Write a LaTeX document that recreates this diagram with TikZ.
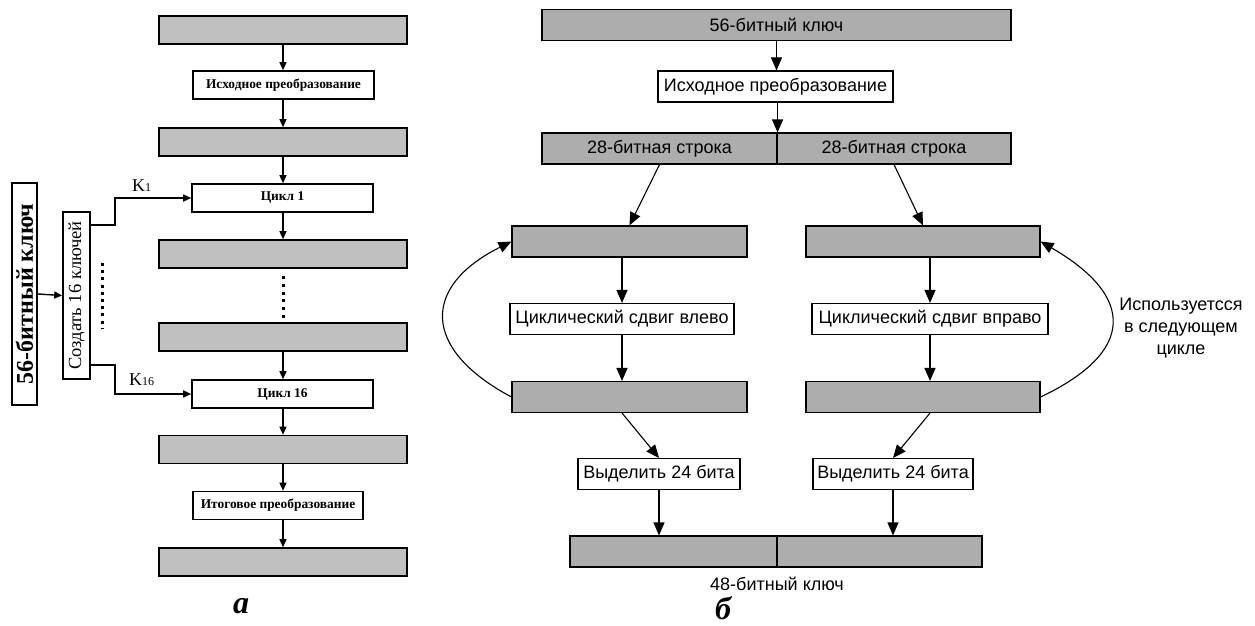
\documentclass[tikz,border=0pt]{standalone}
\usepackage{fontspec}
\setmainfont{Liberation Serif}
\newfontfamily\sansf{Liberation Sans}
\usetikzlibrary{arrows.meta}
\definecolor{lgfill}{HTML}{C0C0C0}
\definecolor{rgfill}{HTML}{ADADAD}
\begin{document}
\begin{tikzpicture}[x=1pt,y=-1pt,
  lbox/.style={draw, line width=1.6pt, inner sep=0pt, font=\fontsize{13.4}{15}\selectfont\bfseries},
  lgrey/.style={lbox, fill=lgfill, minimum width=248pt, minimum height=28pt},
  lwhite/.style={lbox, fill=white, minimum height=28pt},
  larr/.style={line width=1.4pt, -{Triangle[length=8pt,width=7pt]}},
  rbox/.style={draw, line width=1.1pt, inner sep=0pt, font=\sansf\fontsize{18}{21}\selectfont},
  rgrey/.style={rbox, fill=rgfill, minimum height=31pt},
  rwhite/.style={rbox, fill=white, minimum height=31pt},
  rarr/.style={line width=1.1pt, -{Triangle[length=13pt,width=11pt]}},
  dotline/.style={line width=3pt},
  panelcap/.style={inner sep=0pt, font=\fontsize{32}{36}\selectfont\bfseries\itshape}
]
\useasboundingbox (0,0) rectangle (1255,626);

% ---------- panel a ----------
\node[lgrey] (g1) at (283,30) {};
\node[lwhite, minimum width=181pt] (w1) at (283.5,85) {Исходное преобразование};
\node[lgrey] (g2) at (283,142) {};
\node[lwhite, minimum width=181pt] (c1) at (282.5,198) {Цикл 1};
\node[lgrey] (g3) at (283,254) {};
\node[lgrey] (g4) at (283,337) {};
\node[lwhite, minimum width=181pt] (c16) at (282.5,394) {Цикл 16};
\node[lgrey] (g5) at (283,449.5) {};
\node[lwhite, minimum width=170pt] (w2) at (278,505.5) {Итоговое преобразование};
\node[lgrey] (g6) at (283,562) {};

\draw[larr] (g1.south) -- (g1.south |- w1.north);
\draw[larr] (g1.south |- w1.south) -- (g2.north);
\draw[larr] (g2.south) -- (g2.south |- c1.north);
\draw[larr] (g2.south |- c1.south) -- (g3.north);
\draw[larr] (g4.south) -- (g4.south |- c16.north);
\draw[larr] (g4.south |- c16.south) -- (g5.north);
\draw[larr] (g5.south) -- (g5.south |- w2.north);
\draw[larr] (g5.south |- w2.south) -- (g6.north);

\draw[dotline, dash pattern=on 3pt off 4.8pt] (283,276) -- (283,318);

\node[draw, line width=1.6pt, inner sep=0pt, rotate=90, minimum width=222pt, minimum height=25pt,
      font=\fontsize{24}{26}\selectfont\bfseries] (key) at (24.5,294) {56-битный ключ};
\node[draw, line width=1.6pt, inner sep=0pt, rotate=90, minimum width=167pt, minimum height=27pt,
      font=\fontsize{18.5}{20}\selectfont] (gen) at (76.5,295.5) {Создать 16 ключей};
\draw[larr] (key.south) -- (gen.north);

\coordinate (k1a) at (115,225);
\coordinate (k1b) at (115,198);
\coordinate (k16a) at (115,365);
\coordinate (k16b) at (115,394);
\draw[larr] (gen.south |- k1a) -- (k1a) -- (k1b) -- (c1.west);
\draw[larr] (gen.south |- k16a) -- (k16a) -- (k16b) -- (c16.west);
\node[font=\fontsize{18}{20}\selectfont, anchor=base west, inner sep=0pt] (lk1) at (132,191) {K\raisebox{-0.5pt}{\fontsize{12}{14}\selectfont 1}};
\node[font=\fontsize{18}{20}\selectfont, anchor=base west, inner sep=0pt] (lk16) at (129,385) {K\raisebox{-0.5pt}{\fontsize{12}{14}\selectfont 16}};

\draw[dotline, dash pattern=on 3pt off 4.2pt] (102,263) -- (102,329);

\node[panelcap] (capa) at (241,606) {а};

% ---------- panel b ----------
\node[rgrey, minimum width=469pt] (top) at (776.5,25) {56-битный ключ};
\node[rwhite, minimum width=235pt] (ish) at (775.5,86.5) {Исходное преобразование};
\node[rgrey, minimum width=235pt] (s1) at (659.5,148.5) {28-битная строка};
\node[rgrey, minimum width=234pt] (s2) at (894,148.5) {28-битная строка};

\node[rgrey, minimum width=235pt] (L1) at (629.5,241.5) {};
\node[rgrey, minimum width=234pt] (R1) at (923,241.5) {};
\node[rwhite, minimum width=224pt] (CL) at (622,319) {Циклический сдвиг влево};
\node[rwhite, minimum width=236pt] (CR) at (930,319) {Циклический сдвиг вправо};
\node[rgrey, minimum width=235pt] (L2) at (629.5,397) {};
\node[rgrey, minimum width=234pt] (R2) at (923,397) {};
\node[rwhite, minimum width=162pt] (V1) at (659,474) {Выделить 24 бита};
\node[rwhite, minimum width=160pt] (V2) at (893,474) {Выделить 24 бита};
\node[rgrey, minimum width=207pt] (B1) at (673.5,551.5) {};
\node[rgrey, minimum width=205pt] (B2) at (879.5,551.5) {};
\node[font=\sansf\fontsize{18}{21}\selectfont, inner sep=0pt] (lab48) at (777,584) {48-битный ключ};
\node[font=\sansf\fontsize{18}{22}\selectfont, align=center, inner sep=0pt] (use) at (1181,328) {Используетсся\\в следующем\\цикле};

\draw[rarr] (top.south) -- (top.south |- ish.north);
\draw[rarr] (ish.south -| s1.east) -- (s1.north east);
\draw[rarr] (s1.south) -- (L1.north);
\draw[rarr] (s2.south) -- (R1.north);
\draw[rarr] (CL.north |- L1.south) -- (CL.north);
\draw[rarr] (CL.south) -- (CL.south |- L2.north);
\draw[rarr] (CR.north |- R1.south) -- (CR.north);
\draw[rarr] (CR.south) -- (CR.south |- R2.north);
\draw[rarr] (CL.south |- L2.south) -- (V1.north);
\draw[rarr] (CR.south |- R2.south) -- (V2.north);
\draw[rarr] (V1.south) -- (V1.south |- B1.north);
\draw[rarr] (V2.south) -- (V2.south |- B2.north);

\draw[rarr] (L2.west) .. controls +(-90,-48) and +(-90,45) .. (L1.west);
\draw[rarr] (R2.east) .. controls +(95,-45) and +(95,55) .. (R1.east);

\node[panelcap] (capb) at (723,608) {б};
\end{tikzpicture}
\end{document}
